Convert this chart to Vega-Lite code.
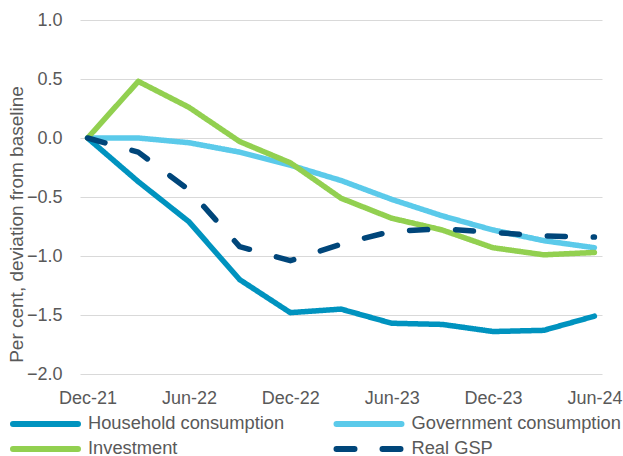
{
  "$schema": "https://vega.github.io/schema/vega-lite/v6.json",
  "width": 522,
  "height": 354,
  "autosize": {"type": "none"},
  "padding": {"left": 80, "top": 20, "right": 21, "bottom": 82},
  "background": "white",
  "config": {
    "view": {"stroke": null},
    "font": "Liberation Sans",
    "axis": {"labelFont": "Liberation Sans", "titleFont": "Liberation Sans", "labelColor": "#595959", "titleColor": "#595959", "labelFontSize": 18, "titleFontSize": 19, "titleFontWeight": "normal"},
    "legend": {"labelFont": "Liberation Sans", "labelFontSize": 18.3, "labelColor": "#595959", "labelLimit": 400}
  },
  "data": {"values": [
    {"q": "Dec-21", "s": "Household consumption", "v": 0},
    {"q": "Mar-22", "s": "Household consumption", "v": -0.37},
    {"q": "Jun-22", "s": "Household consumption", "v": -0.71},
    {"q": "Sep-22", "s": "Household consumption", "v": -1.2},
    {"q": "Dec-22", "s": "Household consumption", "v": -1.48},
    {"q": "Mar-23", "s": "Household consumption", "v": -1.45},
    {"q": "Jun-23", "s": "Household consumption", "v": -1.57},
    {"q": "Sep-23", "s": "Household consumption", "v": -1.58},
    {"q": "Dec-23", "s": "Household consumption", "v": -1.64},
    {"q": "Mar-24", "s": "Household consumption", "v": -1.63},
    {"q": "Jun-24", "s": "Household consumption", "v": -1.51},
    {"q": "Dec-21", "s": "Government consumption", "v": 0},
    {"q": "Mar-22", "s": "Government consumption", "v": 0.0},
    {"q": "Jun-22", "s": "Government consumption", "v": -0.04},
    {"q": "Sep-22", "s": "Government consumption", "v": -0.12},
    {"q": "Dec-22", "s": "Government consumption", "v": -0.23},
    {"q": "Mar-23", "s": "Government consumption", "v": -0.36},
    {"q": "Jun-23", "s": "Government consumption", "v": -0.52},
    {"q": "Sep-23", "s": "Government consumption", "v": -0.66},
    {"q": "Dec-23", "s": "Government consumption", "v": -0.78},
    {"q": "Mar-24", "s": "Government consumption", "v": -0.87},
    {"q": "Jun-24", "s": "Government consumption", "v": -0.93},
    {"q": "Dec-21", "s": "Investment", "v": 0},
    {"q": "Mar-22", "s": "Investment", "v": 0.48},
    {"q": "Jun-22", "s": "Investment", "v": 0.26},
    {"q": "Sep-22", "s": "Investment", "v": -0.03},
    {"q": "Dec-22", "s": "Investment", "v": -0.21},
    {"q": "Mar-23", "s": "Investment", "v": -0.51},
    {"q": "Jun-23", "s": "Investment", "v": -0.68},
    {"q": "Sep-23", "s": "Investment", "v": -0.78},
    {"q": "Dec-23", "s": "Investment", "v": -0.93},
    {"q": "Mar-24", "s": "Investment", "v": -0.99},
    {"q": "Jun-24", "s": "Investment", "v": -0.97},
    {"q": "Dec-21", "s": "Real GSP", "v": 0},
    {"q": "Mar-22", "s": "Real GSP", "v": -0.12},
    {"q": "Jun-22", "s": "Real GSP", "v": -0.44},
    {"q": "Sep-22", "s": "Real GSP", "v": -0.92},
    {"q": "Dec-22", "s": "Real GSP", "v": -1.04},
    {"q": "Mar-23", "s": "Real GSP", "v": -0.9},
    {"q": "Jun-23", "s": "Real GSP", "v": -0.79},
    {"q": "Sep-23", "s": "Real GSP", "v": -0.77},
    {"q": "Dec-23", "s": "Real GSP", "v": -0.8},
    {"q": "Mar-24", "s": "Real GSP", "v": -0.83},
    {"q": "Jun-24", "s": "Real GSP", "v": -0.84}
  ]},
  "mark": {"type": "line", "strokeWidth": 5.5, "strokeCap": "round", "strokeJoin": "round"},
  "encoding": {
    "x": {
      "field": "q", "type": "ordinal",
      "scale": {"type": "point", "padding": 0.15, "domain": ["Dec-21","Mar-22","Jun-22","Sep-22","Dec-22","Mar-23","Jun-23","Sep-23","Dec-23","Mar-24","Jun-24"]},
      "axis": {"title": null, "labelAngle": 0, "domain": false, "ticks": false, "grid": false, "labelPadding": 15,
        "labelExpr": "indexof(datum.label, 'Mar') >= 0 || indexof(datum.label, 'Sep') >= 0 ? '' : datum.label"}
    },
    "y": {
      "field": "v", "type": "quantitative",
      "scale": {"domain": [-2, 1], "nice": false, "zero": false},
      "axis": {"title": "Per cent, deviation from baseline", "values": [-2, -1.5, -1, -0.5, 0, 0.5, 1], "format": ".1f",
        "domain": false, "ticks": false, "grid": true, "gridColor": "#d9d9d9", "gridWidth": 1, "labelPadding": 18,
        "titleX": -58, "titleY": 204, "titleAngle": -90, "titleAlign": "center", "titleBaseline": "alphabetic"}
    },
    "color": {
      "field": "s", "type": "nominal",
      "scale": {"domain": ["Household consumption", "Government consumption", "Investment", "Real GSP"], "range": ["#0093BF", "#5BCAEA", "#92D050", "#00467A"]},
      "legend": {"title": null, "orient": "none", "legendX": -70, "legendY": 393, "direction": "horizontal", "columns": 2, "columnPadding": 39.5, "rowPadding": 1, "symbolType": "M-4.0625,0H4.0625", "symbolSize": 256, "symbolStrokeWidth": 6, "symbolOffset": 24.5, "labelOffset": 31.5, "padding": 0,
        "encode": {"symbols": {"update": {"strokeCap": {"value": "round"}}}}}
    },
    "strokeDash": {
      "field": "s", "type": "nominal",
      "scale": {"domain": ["Household consumption", "Government consumption", "Investment", "Real GSP"], "range": [[1, 0], [1, 0], [1, 0], [18, 28]]},
      "legend": {"title": null, "orient": "none", "legendX": -70, "legendY": 393, "direction": "horizontal", "columns": 2, "columnPadding": 39.5, "rowPadding": 1, "symbolType": "M-4.0625,0H4.0625", "symbolSize": 256, "symbolStrokeWidth": 6, "symbolOffset": 24.5, "labelOffset": 31.5, "padding": 0,
        "encode": {"symbols": {"update": {"strokeCap": {"value": "round"}}}}}
    }
  }
}
